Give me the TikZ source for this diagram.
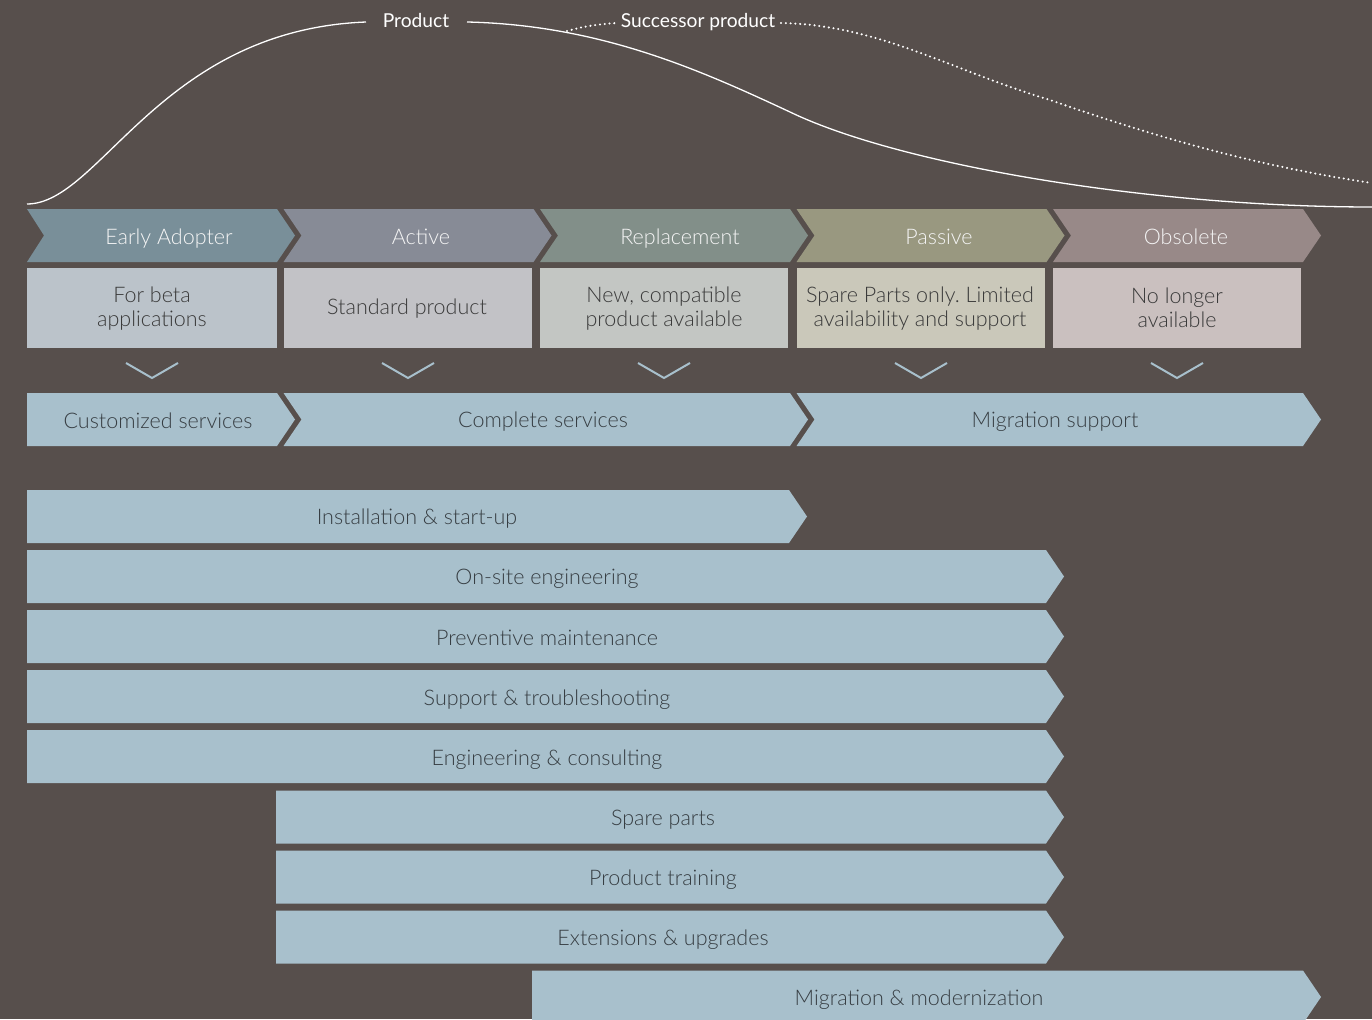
\documentclass[tikz,border=0pt]{standalone}
\usepackage{fontspec}
\setmainfont{Lato Light}
\newfontfamily\labelfont{Lato}
\frenchspacing
\definecolor{bg}{RGB}{87,79,76}
\definecolor{chA}{RGB}{121,143,153}
\definecolor{chB}{RGB}{135,139,150}
\definecolor{chC}{RGB}{130,143,137}
\definecolor{chD}{RGB}{153,152,128}
\definecolor{chE}{RGB}{152,137,136}
\definecolor{bxA}{RGB}{187,195,202}
\definecolor{bxB}{RGB}{194,194,198}
\definecolor{bxC}{RGB}{195,198,195}
\definecolor{bxD}{RGB}{202,200,186}
\definecolor{bxE}{RGB}{202,192,191}
\definecolor{barblue}{RGB}{168,192,204}
\definecolor{darktxt}{RGB}{55,62,67}
\definecolor{boxtxt}{RGB}{58,58,58}
\definecolor{lighttxt}{RGB}{245,245,245}
% #1 colour, #2 left x, #3 right x, #4 top y, #5 notch depth
\newcommand{\arrowshape}[5]{%
  \fill[#1] (#2,#4) -- (#3,#4) -- (#3+18,#4+26.5) -- (#3,#4+53) -- (#2,#4+53) -- (#2+#5,#4+26.5) -- cycle;}
\newcommand{\boxshape}[4]{%
  \fill[#1] (#2,#4) rectangle (#3,#4+80);}
\tikzset{
  chevtext/.style={text=lighttxt, font=\fontsize{21.5}{25}\selectfont, inner sep=0pt, anchor=base},
  boxtext/.style={text=boxtxt, font=\fontsize{21.5}{24}\selectfont, align=center, inner sep=0pt, anchor=center},
  bartext/.style={text=darktxt, font=\fontsize{21.5}{25}\selectfont, inner sep=0pt, anchor=base},
  toplabel/.style={text=white, font=\labelfont\fontsize{19.2}{22}\selectfont, inner sep=0pt, anchor=base},
  vmark/.style={draw=barblue, line width=2pt},
  curve/.style={draw=white, line width=1.3pt},
  dotcurve/.style={draw=white, line width=2.3pt, line cap=round, dash pattern=on 0pt off 4.8pt}
}
\begin{document}
\begin{tikzpicture}[x=1pt,y=-1pt]
\useasboundingbox (0,0) rectangle (1372,1019);
\clip (0,0) rectangle (1372,1019);
\fill[bg] (0,0) rectangle (1372,1019);

% --- life cycle curves
\node[toplabel] (prod) at (416,28) {Product};
\node[toplabel] (succ) at (698,28) {Successor product};
\coordinate (c0) at (27,204);
\coordinate (c1) at (366,22);
\coordinate (c2) at (467,22);
\coordinate (c3) at (790,112);
\coordinate (c4) at (1372,207);
\draw[curve] (c0) .. controls (100,204) and (160,30) .. (c1);
\draw[curve] (c2) .. controls (600,25) and (700,70) .. (c3) .. controls (900,165) and (1150,207) .. (c4);
\coordinate (d0) at (567,31);
\coordinate (d1) at (617,23);
\coordinate (d2) at (781,23);
\coordinate (d3) at (1050,100);
\coordinate (d4) at (1372,183);
\draw[dotcurve] (d0) .. controls (585,26) and (600,24) .. (d1);
\draw[dotcurve] (d2) .. controls (880,25) and (950,70) .. (d3) .. controls (1150,135) and (1250,165) .. (d4);

% --- phase chevrons
\arrowshape{chA}{27}{277}{209}{17}
\arrowshape{chB}{283.5}{533.5}{209}{18}
\arrowshape{chC}{540}{790}{209}{18}
\arrowshape{chD}{796.5}{1046.5}{209}{18}
\arrowshape{chE}{1053}{1303}{209}{18}
\node[chevtext] (p1) at (169,244) {Early Adopter};
\node[chevtext] (p2) at (421,244) {Active};
\node[chevtext] (p3) at (680,244) {Replacement};
\node[chevtext] (p4) at (939,244) {Passive};
\node[chevtext] (p5) at (1186,244) {Obsolete};

% --- description boxes
\boxshape{bxA}{27}{277}{268}
\boxshape{bxB}{283.5}{531.5}{268}
\boxshape{bxC}{540}{788}{268}
\boxshape{bxD}{796.5}{1044.5}{268}
\boxshape{bxE}{1053}{1301}{268}
\node[boxtext] (b1) at (152,309) {For beta\\applications};
\node[boxtext] (b2) at (407,309) {Standard product};
\node[boxtext] (b3) at (664,309) {New, compatible\\product available};
\node[boxtext] (b4) at (920,309) {Spare Parts only. Limited\\availability and support};
\node[boxtext] (b5) at (1177,308) {No longer\\available};

% --- down marks
\foreach \cx/\nm in {152/v1,408/v2,664/v3,921/v4,1177/v5}{
  \coordinate (\nm a) at (\cx-26,363);
  \coordinate (\nm b) at (\cx,378);
  \coordinate (\nm c) at (\cx+26,363);
  \draw[vmark] (\nm a) -- (\nm b) -- (\nm c);
}

% --- service levels
\arrowshape{barblue}{27}{277}{393}{0}
\arrowshape{barblue}{283.5}{790}{393}{18}
\arrowshape{barblue}{796.5}{1303}{393}{18}
\node[bartext] (s1) at (158,428) {Customized services};
\node[bartext] (s2) at (543,427) {Complete services};
\node[bartext] (s3) at (1055,427) {Migration support};

% --- service bars
\arrowshape{barblue}{27}{789}{490}{0}
\arrowshape{barblue}{27}{1046}{550}{0}
\arrowshape{barblue}{27}{1046}{610}{0}
\arrowshape{barblue}{27}{1046}{670}{0}
\arrowshape{barblue}{27}{1046}{730}{0}
\arrowshape{barblue}{276}{1046}{790.5}{0}
\arrowshape{barblue}{276}{1046}{850.5}{0}
\arrowshape{barblue}{276}{1046}{910.5}{0}
\arrowshape{barblue}{532}{1303}{970.5}{0}
\node[bartext] (r1) at (417,524.5) {Installation \& start-up};
\node[bartext] (r2) at (547,584.5) {On-site engineering};
\node[bartext] (r3) at (547,645) {Preventive maintenance};
\node[bartext] (r4) at (547,705) {Support \& troubleshooting};
\node[bartext] (r5) at (547,765) {Engineering \& consulting};
\node[bartext] (r6) at (663,825) {Spare parts};
\node[bartext] (r7) at (663,885) {Product training};
\node[bartext] (r8) at (663,945) {Extensions \& upgrades};
\node[bartext] (r9) at (919,1005) {Migration \& modernization};
\end{tikzpicture}
\end{document}
